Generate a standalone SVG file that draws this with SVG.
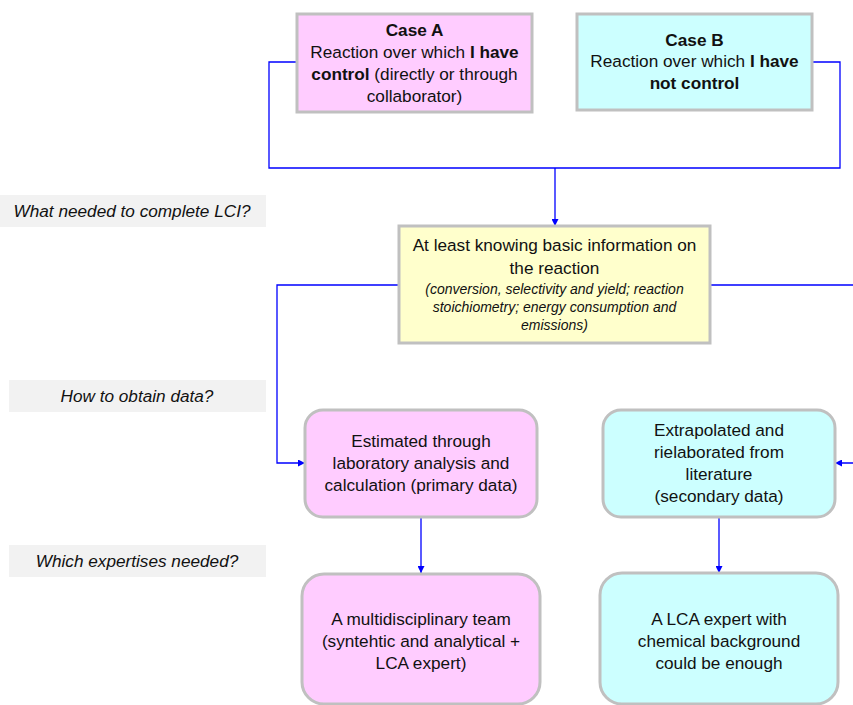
<svg xmlns="http://www.w3.org/2000/svg" width="853" height="705" viewBox="0 0 853 705">
<style>
text{font-family:"Liberation Sans",Arial,sans-serif;fill:#111;text-anchor:middle}
.t{font-size:17.2px}
.s{font-size:14px;font-style:italic}
.q{font-size:17.2px;font-style:italic}
.b{font-weight:bold}
.box{stroke:#c0c0c0;stroke-width:3}
.pink{fill:#ffccff}
.cyan{fill:#ccffff}
.yel{fill:#ffffcc}
.band{fill:#f2f2f2}
.c{fill:none;stroke:#0000ff;stroke-width:1.3}
</style>
<defs>
<marker id="ah" viewBox="0 0 10 10" refX="10" refY="5" markerWidth="7" markerHeight="7" orient="auto" markerUnits="userSpaceOnUse">
<path d="M0,0 L10,5 L0,10 z" fill="#0000ff"/>
</marker>
</defs>
<rect width="853" height="705" fill="#fff"/>
<g id="labels">
<g id="q1"><rect class="band" x="0" y="195" width="266" height="32"/><text class="q" x="132" y="217">What needed to complete LCI?</text></g>
<g id="q2"><rect class="band" x="9" y="380" width="257" height="32"/><text class="q" x="137" y="402">How to obtain data?</text></g>
<g id="q3"><rect class="band" x="9" y="545" width="257" height="32"/><text class="q" x="137" y="567">Which expertises needed?</text></g>
</g>
<g id="connectors">
<path class="c" d="M297,62 H269 V168 H840 V62 H812"/>
<path class="c" d="M555,168 V226" marker-end="url(#ah)"/>
<path class="c" d="M399,285 H277 V463 H305" marker-end="url(#ah)"/>
<path class="c" d="M710,285 H870 V463 H835" marker-end="url(#ah)"/>
<path class="c" d="M421,517 V573" marker-end="url(#ah)"/>
<path class="c" d="M719,517 V573" marker-end="url(#ah)"/>
</g>
<g id="caseA">
<rect class="box pink" x="297" y="14" width="235" height="98"/>
<text class="t b" x="414.5" y="36">Case A</text>
<text class="t" x="414.5" y="58">Reaction over which <tspan class="b">I have</tspan></text>
<text class="t" x="414.5" y="80"><tspan class="b">control</tspan> (directly or through</text>
<text class="t" x="414.5" y="102">collaborator)</text>
</g>
<g id="caseB">
<rect class="box cyan" x="577" y="14" width="235" height="96"/>
<text class="t b" x="694.5" y="46">Case B</text>
<text class="t" x="694.5" y="67">Reaction over which <tspan class="b">I have</tspan></text>
<text class="t b" x="694.5" y="89">not control</text>
</g>
<g id="info">
<rect class="box yel" x="399" y="226" width="311" height="117"/>
<text class="t" x="554.5" y="251">At least knowing basic information on</text>
<text class="t" x="554.5" y="274">the reaction</text>
<text class="s" x="554.5" y="294">(conversion, selectivity and yield; reaction</text>
<text class="s" x="554.5" y="312">stoichiometry; energy consumption and</text>
<text class="s" x="554.5" y="330">emissions)</text>
</g>
<g id="primary">
<rect class="box pink" x="305" y="410" width="232" height="107" rx="18"/>
<text class="t" x="421" y="447">Estimated through</text>
<text class="t" x="421" y="469">laboratory analysis and</text>
<text class="t" x="421" y="491">calculation (primary data)</text>
</g>
<g id="secondary">
<rect class="box cyan" x="603" y="410" width="232" height="107" rx="18"/>
<text class="t" x="719" y="436">Extrapolated and</text>
<text class="t" x="719" y="458">rielaborated from</text>
<text class="t" x="719" y="480">literature</text>
<text class="t" x="719" y="502">(secondary data)</text>
</g>
<g id="team">
<rect class="box pink" x="302" y="574" width="238" height="130" rx="22"/>
<text class="t" x="421" y="625">A multidisciplinary team</text>
<text class="t" x="421" y="647">(syntehtic and analytical +</text>
<text class="t" x="421" y="669">LCA expert)</text>
</g>
<g id="expert">
<rect class="box cyan" x="600" y="573" width="238" height="131" rx="22"/>
<text class="t" x="719" y="625">A LCA expert with</text>
<text class="t" x="719" y="647">chemical background</text>
<text class="t" x="719" y="669">could be enough</text>
</g>
</svg>
